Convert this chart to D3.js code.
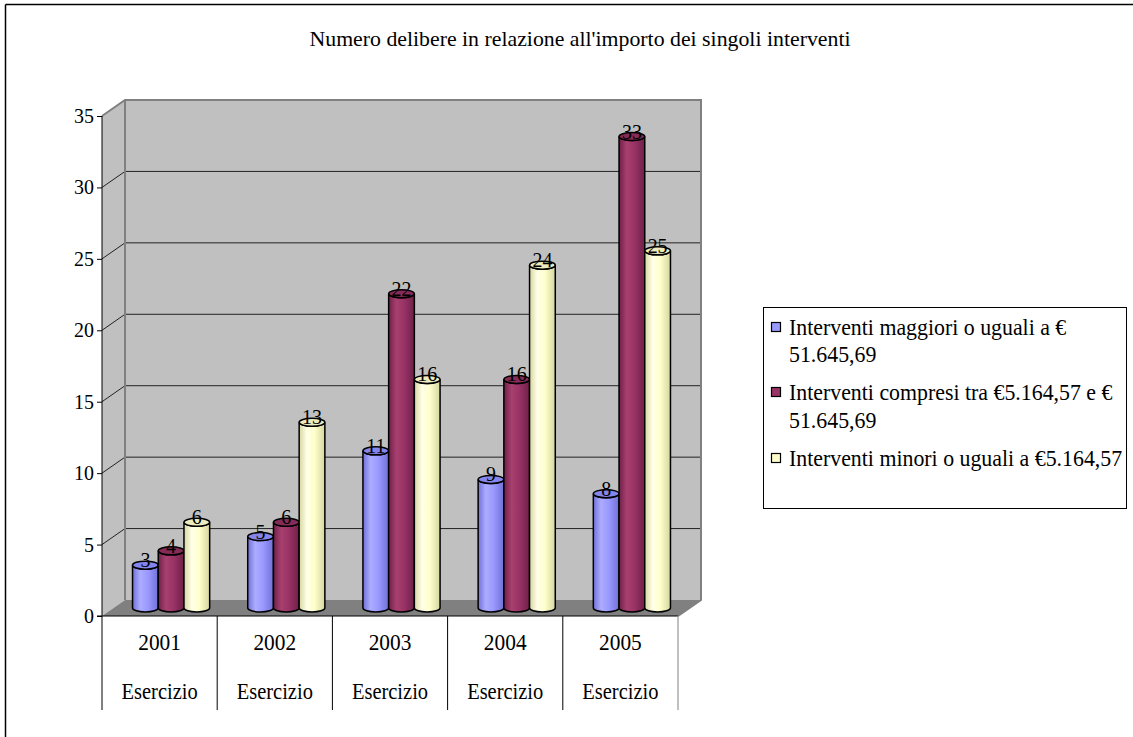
<!DOCTYPE html>
<html><head><meta charset="utf-8">
<script src="https://cdn.jsdelivr.net/npm/d3@7"></script>
<style>body{margin:0;background:#fff}svg{display:block}text{font-family:"Liberation Serif","Times New Roman",serif;fill:#000}</style>
</head><body><svg id="c" width="1133" height="737"></svg>
<script>
const title = "Numero delibere in relazione all'importo dei singoli interventi";
const years = ["2001","2002","2003","2004","2005"];
const subLabel = "Esercizio";
const seriesNames = [
  ["Interventi maggiori o uguali a €","51.645,69"],
  ["Interventi compresi tra €5.164,57 e €","51.645,69"],
  ["Interventi minori o uguali a €5.164,57"]
];
const seriesA = [3,5,11,9,8];
const seriesB = [4,6,22,16,33];
const seriesC = [6,13,16,24,25];
const yTicks = [0,5,10,15,20,25,30,35];
const colors = ["#9999FF","#993366","#FFFFCC"];
const dark = ["#7070d8","#6e2048","#d6d6a0"];
const light = ["#acacff","#a8406f","#ffffe8"];
const topFill = ["#8585ee","#852b58","#ececbf"];

const svg = d3.select("#c");
const defs = svg.append("defs");
colors.forEach((c,i)=>{
  const g = defs.append("linearGradient").attr("id","g"+i).attr("x1","0").attr("x2","1").attr("y1","0").attr("y2","0");
  g.append("stop").attr("offset","0").attr("stop-color",dark[i]);
  g.append("stop").attr("offset","0.3").attr("stop-color",light[i]);
  g.append("stop").attr("offset","0.6").attr("stop-color",c);
  g.append("stop").attr("offset","1").attr("stop-color",dark[i]);
});

function txt(x, yy, s, size, anchor, sx){
  const g = svg.append("g").attr("transform",`translate(${x},${yy}) scale(${sx},1)`);
  return g.append("text").attr("text-anchor",anchor).attr("font-size",size).text(s);
}

svg.append("line").attr("x1",5.5).attr("y1",4.5).attr("x2",1133).attr("y2",4.5).attr("stroke","#000").attr("stroke-width",1.5);
svg.append("line").attr("x1",5.5).attr("y1",4.5).attr("x2",5.5).attr("y2",737).attr("stroke","#000").attr("stroke-width",1.5);

svg.append("text").attr("x",580).attr("y",46).attr("text-anchor","middle").attr("font-size",21)
  .attr("textLength",541).attr("lengthAdjust","spacingAndGlyphs").text(title);

const DX = 23, DY = -16;
const x0 = d3.scaleBand().domain(years).range([102,678]).paddingInner(0).paddingOuter(0);
const x1 = d3.scaleBand().domain([0,1,2]).range([0,x0.bandwidth()]).paddingInner(0).paddingOuter(0.74);
const y = d3.scaleLinear().domain([0,35]).range([616,116]);
const [xL,xR] = x0.range();

svg.append("polygon").attr("points",[[xL,y(0)],[xL+DX,y(0)+DY],[xL+DX,y(35)+DY],[xL,y(35)]].join(" ")).attr("fill","#C0C0C0");
svg.append("rect").attr("x",xL+DX).attr("y",y(35)+DY).attr("width",xR-xL).attr("height",y(0)-y(35)).attr("fill","#C0C0C0");
svg.append("polygon").attr("points",[[xL,y(0)],[xL+DX,y(0)+DY],[xR+DX,y(0)+DY],[xR,y(0)]].join(" ")).attr("fill","#808080");
yTicks.filter(t=>t>0&&t<35).forEach(t=>{
  svg.append("polyline").attr("points",[[xL,y(t)],[xL+DX,y(t)+DY],[xR+DX,y(t)+DY]].join(" "))
    .attr("fill","none").attr("stroke","#222").attr("stroke-width",1);
});
svg.append("polyline").attr("points",[[xL,y(35)],[xL+DX,y(35)+DY],[xR+DX,y(35)+DY],[xR+DX,y(0)+DY],[xR,y(0)]].join(" "))
  .attr("fill","none").attr("stroke","#808080").attr("stroke-width",2);
svg.append("line").attr("x1",xL+DX).attr("x2",xL+DX).attr("y1",y(35)+DY).attr("y2",y(0)+DY).attr("stroke","#808080").attr("stroke-width",2);

const yAxis = d3.axisLeft(y).tickValues(yTicks).tickSize(5).tickFormat("");
const ga = svg.append("g").attr("transform",`translate(${xL},0)`).call(yAxis);
ga.select(".domain").remove();
ga.selectAll("line").attr("stroke","#000");
yTicks.forEach(t=>txt(xL-8, y(t)+7, t, 21, "end", 0.95));
svg.append("line").attr("x1",xL).attr("x2",xL).attr("y1",y(35)).attr("y2",710).attr("stroke","#000");
svg.append("line").attr("x1",xL-5).attr("x2",xR).attr("y1",y(0)).attr("y2",y(0)).attr("stroke","#000");

years.forEach(yr=>{
  const xe = x0(yr)+x0.bandwidth();
  svg.append("line").attr("x1",xe).attr("x2",xe).attr("y1",y(0)).attr("y2",710).attr("stroke", yr===years[years.length-1]?"#808080":"#000");
  const cx = x0(yr)+x0.bandwidth()/2;
  txt(cx, 650, yr, 22.5, "middle", 0.95);
  txt(cx, 699, subLabel, 22.5, "middle", 0.91);
});

const data = [seriesA,seriesB,seriesC];
const RY = 4;
years.forEach((yr,ci)=>{
  data.forEach((s,si)=>{
    const v = s[ci];
    const left = x0(yr)+x1(si)+DX/2, w = x1.bandwidth(), right = left+w, rx = w/2;
    const bot = y(0)+DY/2, top = y(v)+DY/2;
    const p = `M${left},${top} L${left},${bot} A${rx},${RY} 0 0 0 ${right},${bot} L${right},${top} A${rx},${RY} 0 0 1 ${left},${top} Z`;
    svg.append("path").attr("d",p).attr("fill",`url(#g${si})`).attr("stroke","#000").attr("stroke-width",1.5);
    svg.append("ellipse").attr("cx",left+rx).attr("cy",top).attr("rx",rx).attr("ry",RY)
      .attr("fill",topFill[si]).attr("stroke","#000").attr("stroke-width",1.5);
    txt(left+rx, top+2, v, 21, "middle", 0.95);
  });
});

svg.append("rect").attr("x",763.5).attr("y",307.5).attr("width",363).attr("height",201).attr("fill","#fff").attr("stroke","#000").attr("stroke-width",1);
const legY = [[335,362],[400,428],[466]];
seriesNames.forEach((lines,i)=>{
  svg.append("rect").attr("x",771.5).attr("y",legY[i][0]-12.5).attr("width",9).attr("height",9).attr("fill",colors[i]).attr("stroke","#000").attr("stroke-width",1.2);
  lines.forEach((ln,j)=> txt(789, legY[i][j], ln, 23.5, "start", 0.93));
});
</script></body></html>
